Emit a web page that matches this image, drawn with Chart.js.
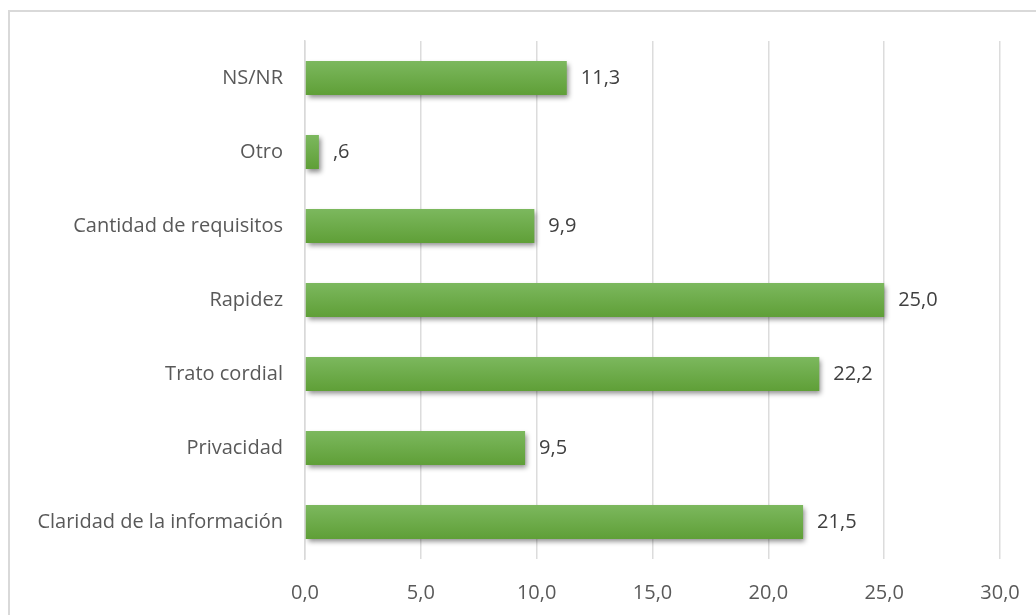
<!DOCTYPE html>
<html>
<head>
<meta charset="utf-8">
<script src="https://cdn.jsdelivr.net/npm/chart.js@4"></script>
<style>
  html, body { margin: 0; padding: 0; background: #fff; overflow: hidden; }
  #frame {
    position: absolute; left: 8px; top: 10px; width: 1100px; height: 700px;
    border: 2px solid #d9d9d9; box-sizing: border-box;
  }
  #chart { position: absolute; left: 0; top: 0; }
</style>
</head>
<body>
<div id="frame"></div>
<canvas id="chart" width="1036" height="615"></canvas>
<script>
const categories = [
  'NS/NR', 'Otro', 'Cantidad de requisitos', 'Rapidez',
  'Trato cordial', 'Privacidad', 'Claridad de la información'
];
const values = [11.3, 0.6, 9.9, 25.0, 22.2, 9.5, 21.5];
const xTicks = [0, 5, 10, 15, 20, 25, 30];

const FONT = "'Open Sans', sans-serif";
const TEXT = '#595959';

function fmt(v) {
  let s = v.toFixed(1).replace('.', ',');
  if (s.startsWith('0,') && v !== 0) s = s.slice(1);
  return s;
}

function barFill(context) {
  const chart = context.chart;
  const y = chart.scales.y;
  if (!y || y.getPixelForTick(context.dataIndex) == null) return '#70ad47';
  const c = y.getPixelForTick(context.dataIndex);
  const g = chart.ctx.createLinearGradient(0, c - 17, 0, c + 17);
  g.addColorStop(0, '#7cb85e');
  g.addColorStop(1, '#5f9f37');
  return g;
}

const shadowPlugin = {
  id: 'barShadow',
  beforeDatasetsDraw(chart) {
    const ctx = chart.ctx;
    ctx.save();
    ctx.shadowColor = 'rgba(0,0,0,0.45)';
    ctx.shadowBlur = 5;
    ctx.shadowOffsetX = 2;
    ctx.shadowOffsetY = 3;
  },
  afterDatasetsDraw(chart) {
    chart.ctx.restore();
  }
};

const labelPlugin = {
  id: 'valueLabels',
  afterDraw(chart) {
    const ctx = chart.ctx;
    const meta = chart.getDatasetMeta(0);
    ctx.save();
    ctx.font = '20px ' + FONT;
    ctx.fillStyle = '#404040';
    ctx.textAlign = 'left';
    ctx.textBaseline = 'middle';
    meta.data.forEach((bar, i) => {
      ctx.fillText(fmt(values[i]), bar.x + 14, bar.y);
    });
    ctx.restore();
  }
};

new Chart(document.getElementById('chart'), {
  type: 'bar',
  data: {
    labels: categories,
    datasets: [{
      data: values,
      backgroundColor: barFill,
      borderWidth: 0,
      barPercentage: 0.46,
      categoryPercentage: 1
    }]
  },
  options: {
    indexAxis: 'y',
    responsive: false,
    animation: false,
    layout: { padding: { top: 41, right: 36, left: 0, bottom: 0 } },
    plugins: { legend: { display: false }, tooltip: { enabled: false } },
    scales: {
      x: {
        min: 0, max: 30,
        afterBuildTicks(scale) { scale.ticks = xTicks.map(v => ({ value: v })); },
        afterFit(scale) {
          scale.height = 56;
          scale.paddingLeft = 0;
          scale.paddingRight = 0;
        },
        grid: { color: '#dcdcdc', lineWidth: 1.5, drawTicks: false },
        border: { display: false },
        ticks: {
          padding: 22,
          color: TEXT,
          font: { family: FONT, size: 20 },
          callback: v => v.toFixed(1).replace('.', ',')
        }
      },
      y: {
        afterFit(scale) { scale.width = 305; },
        grid: { display: false, drawTicks: false },
        border: { display: true, color: '#d9d9d9', width: 1.5 },
        ticks: {
          padding: 22,
          color: TEXT,
          font: { family: FONT, size: 20 }
        }
      }
    }
  },
  plugins: [shadowPlugin, labelPlugin]
});
</script>
</body>
</html>
